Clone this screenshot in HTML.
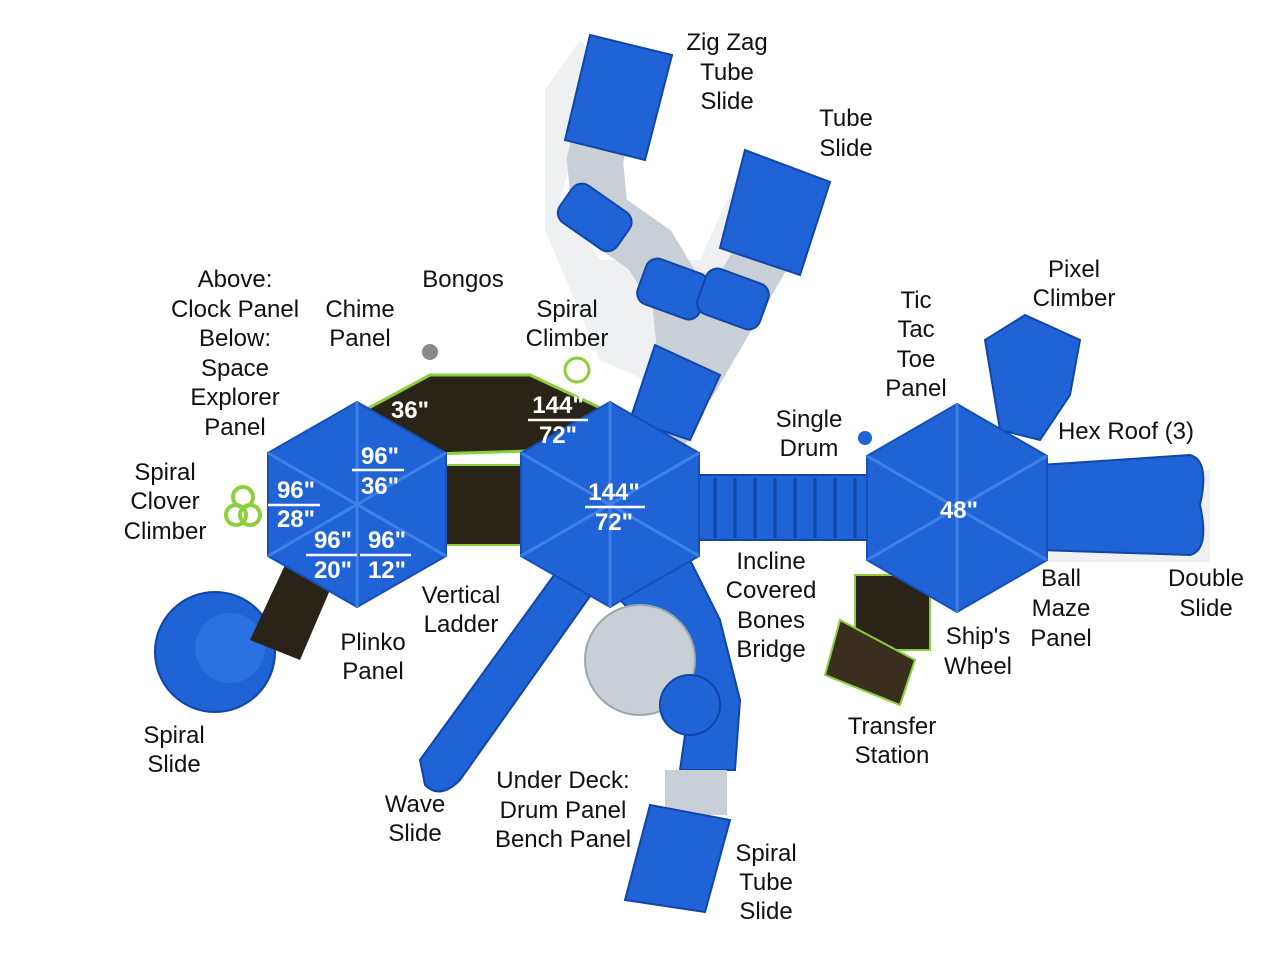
<!DOCTYPE html>
<html><head><meta charset="utf-8"><style>
html,body{margin:0;padding:0;background:#fff;}
svg{display:block}
.l{font-family:"Liberation Sans",sans-serif;font-size:24px;fill:#111;text-anchor:middle}
.w{font-family:"Liberation Sans",sans-serif;font-size:24px;font-weight:bold;fill:#fff;text-anchor:middle}
</style></head><body>
<svg width="1279" height="960" viewBox="0 0 1279 960" xmlns="http://www.w3.org/2000/svg">
<rect width="1279" height="960" fill="#fff"/>
<!-- shadows -->
<g fill="#eef0f2">
<path d="M545 90 L580 40 L600 60 L560 200 L600 260 L700 260 L745 160 L790 170 L740 300 L690 400 L600 360 L545 230 Z"/>
<rect x="1045" y="470" width="165" height="92"/>
</g>
<!-- zigzag tube -->
<g fill="none" stroke-linecap="round">
<path d="M610 100 L595 160 L600 215 L650 250 L680 300 L685 350 L670 420" stroke="#c9cfd6" stroke-width="56"/>
<path d="M785 205 L760 260 L725 320 L690 380" stroke="#c9cfd6" stroke-width="56"/>
</g>
<g fill="#1f63d6" stroke="#0f46a8" stroke-width="2">
<path d="M590 35 L672 55 L645 160 L565 140 Z"/>
<path d="M745 150 L830 182 L800 275 L720 248 Z"/>
<rect x="560" y="195" width="70" height="45" rx="12" transform="rotate(35 595 217)"/>
<rect x="640" y="265" width="66" height="48" rx="12" transform="rotate(20 673 289)"/>
<rect x="700" y="275" width="66" height="48" rx="12" transform="rotate(20 733 299)"/>
<path d="M655 345 L720 375 L690 440 L630 420 Z"/>
</g>
<!-- wave slide -->
<path d="M565 560 L605 575 L460 780 Q440 800 425 785 L420 760 Z" fill="#1f63d6" stroke="#0f46a8" stroke-width="2"/>
<!-- spiral tube slide bottom -->
<path d="M620 600 L690 560 L720 620 L740 700 L735 770 L680 770 L690 700 L660 640 Z" fill="#1f63d6" stroke="#0f46a8" stroke-width="2"/>
<circle cx="640" cy="660" r="55" fill="#c9cfd6" stroke="#9aa" stroke-width="2"/>
<circle cx="690" cy="705" r="30" fill="#1f63d6" stroke="#0f46a8" stroke-width="2"/>
<rect x="665" y="770" width="62" height="45" fill="#c9cfd6"/>
<path d="M650 805 L730 820 L705 912 L625 900 Z" fill="#1f63d6" stroke="#0f46a8" stroke-width="2"/>
<!-- dark deck -->
<path d="M365 410 L430 375 L530 375 L605 410 L560 450 L400 455 Z" fill="#2a2418" stroke="#8ccf3a" stroke-width="3"/>
<rect x="440" y="465" width="90" height="80" fill="#2a2418" stroke="#8ccf3a" stroke-width="2"/>
<circle cx="430" cy="352" r="8" fill="#888"/>
<circle cx="577" cy="370" r="12" fill="none" stroke="#8ccf3a" stroke-width="3"/>
<!-- spiral clover -->
<g fill="none" stroke="#8ccf3a" stroke-width="4"><circle cx="243" cy="497" r="10"/><circle cx="250" cy="515" r="10"/><circle cx="236" cy="515" r="10"/></g>
<!-- spiral slide left -->
<circle cx="215" cy="652" r="60" fill="#1f63d6" stroke="#0f46a8" stroke-width="2"/>
<circle cx="230" cy="648" r="35" fill="#2b70e0"/>
<path d="M285 565 L330 590 L300 660 L250 640 Z" fill="#2a2418"/>
<!-- bridge -->
<rect x="695" y="475" width="175" height="65" fill="#1f63d6" stroke="#0f46a8" stroke-width="2"/>
<g stroke="#0f46a8" stroke-width="3">
<line x1="715" y1="478" x2="715" y2="538"/><line x1="735" y1="478" x2="735" y2="538"/><line x1="755" y1="478" x2="755" y2="538"/><line x1="775" y1="478" x2="775" y2="538"/><line x1="795" y1="478" x2="795" y2="538"/><line x1="815" y1="478" x2="815" y2="538"/><line x1="835" y1="478" x2="835" y2="538"/><line x1="855" y1="478" x2="855" y2="538"/>
</g>
<circle cx="865" cy="438" r="7" fill="#1f63d6"/>
<!-- double slide -->
<path d="M1040 465 L1190 455 Q1210 460 1200 505 Q1210 550 1190 555 L1040 550 Z" fill="#1f63d6" stroke="#0f46a8" stroke-width="2"/>
<!-- pixel climber -->
<path d="M985 340 L1025 315 L1080 340 L1070 395 L1040 440 L1000 430 Z" fill="#1f63d6" stroke="#0f46a8" stroke-width="2"/>
<!-- transfer station -->
<rect x="855" y="575" width="75" height="75" fill="#2a2418" stroke="#8ccf3a" stroke-width="2"/>
<path d="M840 620 L915 660 L900 705 L825 675 Z" fill="#3a2e1f" stroke="#8ccf3a" stroke-width="2"/>
<!-- hexes -->
<g fill="#1f63d6" stroke="#1450b8" stroke-width="2">
<polygon points="357,402 446,453 446,556 357,607 268,556 268,453"/>
<polygon points="610,402 699,453 699,556 610,607 521,556 521,453"/>
<polygon points="957,404 1047,456 1047,560 957,612 867,560 867,456"/>
</g>
<g stroke="#3f7fe8" stroke-width="3">
<path d="M357 402V607M268 453L446 556M268 556L446 453"/>
<path d="M610 402V607M521 453L699 556M521 556L699 453"/>
<path d="M957 404V612M867 456L1047 560M867 560L1047 456"/>
</g>
<!-- white labels -->
<g stroke="#fff" stroke-width="2.5">
<line x1="352" y1="470" x2="404" y2="470"/><line x1="268" y1="505" x2="320" y2="505"/>
<line x1="306" y1="555" x2="357" y2="555"/><line x1="360" y1="555" x2="411" y2="555"/>
<line x1="528" y1="420" x2="588" y2="420"/><line x1="585" y1="507" x2="645" y2="507"/>
</g>
<text class="w" x="410" y="418">36"</text>
<text class="w" x="380" y="464">96"</text><text class="w" x="380" y="494">36"</text>
<text class="w" x="296" y="498">96"</text><text class="w" x="296" y="527">28"</text>
<text class="w" x="333" y="548">96"</text><text class="w" x="333" y="578">20"</text>
<text class="w" x="387" y="548">96"</text><text class="w" x="387" y="578">12"</text>
<text class="w" x="558" y="413">144"</text><text class="w" x="558" y="443">72"</text>
<text class="w" x="614" y="500">144"</text><text class="w" x="614" y="530">72"</text>
<text class="w" x="959" y="518">48"</text>
<!-- labels -->
<text class="l" x="727" y="50">Zig Zag</text><text class="l" x="727" y="80">Tube</text><text class="l" x="727" y="109">Slide</text>
<text class="l" x="846" y="126">Tube</text><text class="l" x="846" y="156">Slide</text>
<text class="l" x="235" y="287">Above:</text><text class="l" x="235" y="317">Clock Panel</text><text class="l" x="235" y="346">Below:</text><text class="l" x="235" y="376">Space</text><text class="l" x="235" y="405">Explorer</text><text class="l" x="235" y="435">Panel</text>
<text class="l" x="360" y="317">Chime</text><text class="l" x="360" y="346">Panel</text>
<text class="l" x="463" y="287">Bongos</text>
<text class="l" x="567" y="317">Spiral</text><text class="l" x="567" y="346">Climber</text>
<text class="l" x="916" y="308">Tic</text><text class="l" x="916" y="337">Tac</text><text class="l" x="916" y="367">Toe</text><text class="l" x="916" y="396">Panel</text>
<text class="l" x="1074" y="277">Pixel</text><text class="l" x="1074" y="306">Climber</text>
<text class="l" x="809" y="427">Single</text><text class="l" x="809" y="456">Drum</text>
<text class="l" x="1126" y="439">Hex Roof (3)</text>
<text class="l" x="165" y="480">Spiral</text><text class="l" x="165" y="509">Clover</text><text class="l" x="165" y="539">Climber</text>
<text class="l" x="771" y="569">Incline</text><text class="l" x="771" y="598">Covered</text><text class="l" x="771" y="628">Bones</text><text class="l" x="771" y="657">Bridge</text>
<text class="l" x="1061" y="586">Ball</text><text class="l" x="1061" y="616">Maze</text><text class="l" x="1061" y="646">Panel</text>
<text class="l" x="1206" y="586">Double</text><text class="l" x="1206" y="616">Slide</text>
<text class="l" x="461" y="603">Vertical</text><text class="l" x="461" y="632">Ladder</text>
<text class="l" x="373" y="650">Plinko</text><text class="l" x="373" y="679">Panel</text>
<text class="l" x="978" y="644">Ship's</text><text class="l" x="978" y="674">Wheel</text>
<text class="l" x="892" y="734">Transfer</text><text class="l" x="892" y="763">Station</text>
<text class="l" x="174" y="743">Spiral</text><text class="l" x="174" y="772">Slide</text>
<text class="l" x="415" y="812">Wave</text><text class="l" x="415" y="841">Slide</text>
<text class="l" x="563" y="788">Under Deck:</text><text class="l" x="563" y="818">Drum Panel</text><text class="l" x="563" y="847">Bench Panel</text>
<text class="l" x="766" y="861">Spiral</text><text class="l" x="766" y="890">Tube</text><text class="l" x="766" y="919">Slide</text>
</svg>
</body></html>
